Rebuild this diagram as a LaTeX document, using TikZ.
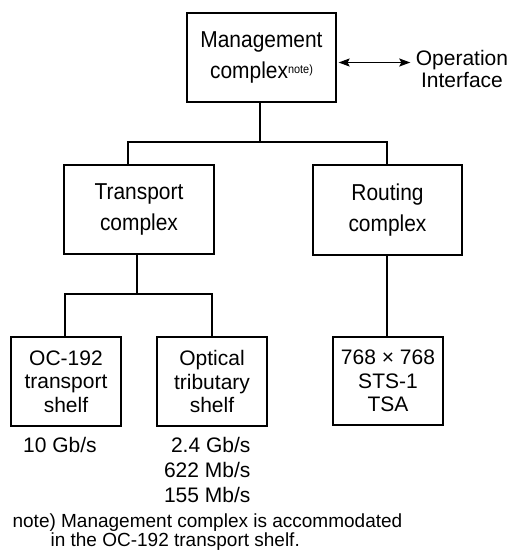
\documentclass[tikz,border=0pt]{standalone}
\usepackage{fontspec}
\setmainfont{Liberation Sans}
\newfontfamily\tallfont{Liberation Sans}[FakeStretch=0.91]
\usetikzlibrary{arrows.meta}
\begin{document}
\begin{tikzpicture}[x=1pt,y=-1pt,
  line width=1.2pt,
  box/.style={draw, line width=1.2pt, inner sep=0pt, align=center},
  bigbox/.style={box, minimum width=149pt, minimum height=89pt, font=\tallfont\fontsize{23}{31.5}\selectfont},
  smallbox/.style={box, minimum width=110pt, minimum height=89pt, font=\fontsize{21}{23.5}\selectfont},
  lbl/.style={inner sep=0pt},
  rate/.style={lbl, font=\fontsize{21}{25}\selectfont}
]
\useasboundingbox (0,0) rectangle (511,550);

% top level
\node[bigbox] (mg) at (261.5,57.5) {Management\\complex\raisebox{5pt}{\fontsize{12}{12}\selectfont note)}};
\node[lbl, align=center, font=\fontsize{21}{22}\selectfont] (opi) at (462,68.5) {Operation\\Interface};
\coordinate (a1) at ([xshift=2pt,yshift=-5pt]mg.east);
\coordinate (a2) at ([xshift=-5pt]opi.west |- a1);
\draw[line width=1.1pt, {Stealth[length=11pt,width=8pt,inset=2pt]}-{Stealth[length=11pt,width=8pt,inset=2pt]}] (a1) -- (a2);

% second level
\node[bigbox, minimum width=150pt] (tr) at (139,209.5) {Transport\\complex};
\node[bigbox, minimum height=90pt] (ro) at (387.5,210) {Routing\\complex};

% third level
\node[smallbox] (oc) at (66,381.5) {OC-192\\transport\\shelf};
\node[smallbox] (ot) at (212,381.5) {Optical\\tributary\\shelf};
\node[smallbox, minimum height=88pt] (tsa) at (388,381) {768 × 768\\STS-1\\TSA};

% connectors
\coordinate (b1) at (0,142);
\coordinate (b2) at (0,294);
\draw ([xshift=-1.5pt]mg.south) -- ([xshift=-1.5pt]mg.south |- b1);
\draw ([xshift=-11pt]tr.north) -- ([xshift=-11pt]tr.north |- b1) -- ([xshift=-0.5pt]ro.north |- b1) -- ([xshift=-0.5pt]ro.north);
\draw ([xshift=-2pt]tr.south) -- ([xshift=-2pt]tr.south |- b2);
\draw ([xshift=-1pt]oc.north) -- ([xshift=-1pt]oc.north |- b2) -- (ot.north |- b2) -- (ot.north);
\draw ([xshift=-0.5pt]ro.south) -- ([xshift=-1pt]tsa.north);

% rates
\node[rate, anchor=base] (r1) at (60,452) {10 Gb/s};
\node[rate, anchor=north east, align=right] (r2) at (251,437) {2.4 Gb/s\\622 Mb/s\\155 Mb/s};

% note
\node[lbl, anchor=north west, align=left, font=\fontsize{19}{19.5}\selectfont] (nt) at (12,513) {note) Management complex is accommodated\\\hspace*{38pt}in the OC-192 transport shelf.};
\end{tikzpicture}
\end{document}
